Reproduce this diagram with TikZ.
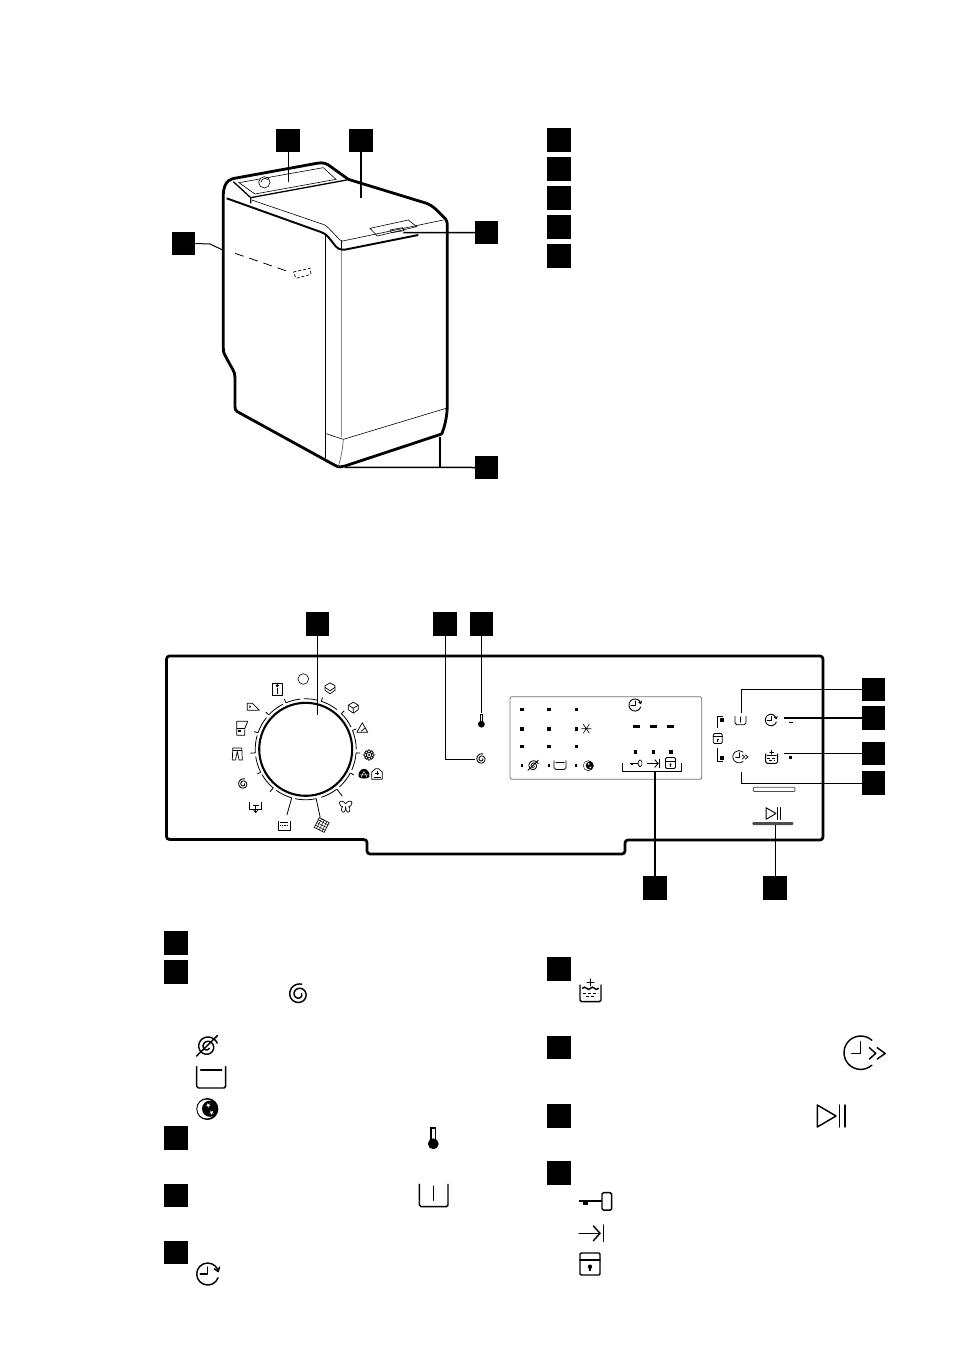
\documentclass[tikz,border=0pt]{standalone}
\usetikzlibrary{calc}
\tikzset{
  blk/.style={fill=black,draw=none,minimum size=23.5pt,inner sep=0pt,outer sep=0pt},
  lead/.style={line width=1.5pt,black},
  leadthin/.style={line width=1pt,black},
  heavy/.style={line width=2.8pt,line join=round,line cap=round},
  thinl/.style={line width=.6pt},
  led/.style={fill=black,draw=none,minimum size=3.6pt,inner sep=0pt},
  ledsmall/.style={fill=black,draw=none,minimum size=2.8pt,inner sep=0pt}
}
\newcommand{\IcOpen}[3]{\begin{scope}[shift={(#1,#2)},scale=#3,line width=0.3pt+1.15pt*#3,line cap=round,line join=round]}
\newcommand{\IcSpiral}[3]{\IcOpen{#1}{#2}{#3}
  \draw plot[domain=0:660,samples=60,smooth] ({(10.5-8*\x/660)*cos(-75-\x)},{(10.5-8*\x/660)*sin(-75-\x)});
\end{scope}}
\newcommand{\IcNoSpin}[3]{\IcOpen{#1}{#2}{#3}
  \draw plot[domain=0:660,samples=60,smooth] ({(10.5-8*\x/660)*cos(-20-\x)},{(10.5-8*\x/660)*sin(-20-\x)});
  \draw (-10.7,9.3) -- (10,-11);
\end{scope}}
\newcommand{\IcRinse}[3]{\IcOpen{#1}{#2}{#3}
  \draw[rounded corners=1.7] (-14.5,-10.7) -- (-14.5,10.7) -- (14.5,10.7) -- (14.5,-10.7);
  \draw (-10.5,-7.3) -- (10.5,-7.3);
\end{scope}}
\newcommand{\IcTub}[3]{\IcOpen{#1}{#2}{#3}
  \draw[rounded corners=1.7] (-14.3,-11.2) -- (-14.3,11.2) -- (14.3,11.2) -- (14.3,-11.2);
  \draw (0,-9.5) -- (0,4.7);
\end{scope}}
\newcommand{\IcMoon}[3]{\begin{scope}[shift={(#1,#2)},scale=#3]
  \fill[black] (0,0) circle (11);
  \fill[white] (-.6,0) circle (9.4);
  \fill[black] (2.8,-.3) circle (8.1);
  \fill[white,shift={(1,-3.7)}] (90:2.4)--(234:2.4)--(18:2.4)--(162:2.4)--(306:2.4)--cycle;
  \fill[white,shift={(4.3,3.6)}] (90:2.4)--(234:2.4)--(18:2.4)--(162:2.4)--(306:2.4)--cycle;
\end{scope}}
\newcommand{\IcTherm}[3]{\begin{scope}[shift={(#1,#2)},scale=#3]
  \fill[black] (-2.9,-11) rectangle (2.9,3);
  \fill[white] (-1.4,-9.4) rectangle (1.4,.5);
  \fill[black] (0,5.5) circle (5.4);
\end{scope}}
\newcommand{\IcClock}[3]{\IcOpen{#1}{#2}{#3}
  \draw (20:11) arc[start angle=20,end angle=335,radius=11];
  \draw (0,-7) -- (0,0) -- (-7.5,0);
  \draw (6.6,-5.2) -- (10.5,-2.4) -- (11.8,-7);
\end{scope}}
\newcommand{\IcForward}[3]{\IcOpen{#1}{#2}{#3}
  \draw (48:16.7) arc[start angle=48,end angle=312,radius=16.7];
  \draw (0,-11) -- (0,0.7) -- (-9,0.7);
  \draw (8.7,-5) -- (15,0.7) -- (8.7,6.3);
  \draw (16.5,-5) -- (24.5,0.7) -- (16.5,6.3);
\end{scope}}
\newcommand{\IcAdd}[3]{\IcOpen{#1}{#2}{#3}
  \draw[rounded corners=1.5] (-10.5,-5) -- (-10.5,11.7) -- (10.5,11.7) -- (10.5,-5);
  \draw (-3.3,-7.7) -- (3.3,-7.7) (0,-11) -- (0,-4.4);
  \draw (-8,-1.7) .. controls (-6.5,-3.3) and (-5.5,-3.3) .. (-4,-1.7) .. controls (-2.5,-.2) and (-1.5,-.2) .. (0,-1.7) .. controls (1.5,-3.3) and (2.5,-3.3) .. (4,-1.7) .. controls (5.5,-.2) and (6.5,-.2) .. (8,-1.7);
  \draw[densely dashed,line cap=butt] (-7.5,3.3) -- (7.5,3.3);
  \draw[densely dashed,line cap=butt] (-5,6.7) -- (5,6.7);
\end{scope}}
\newcommand{\IcPlay}[3]{\IcOpen{#1}{#2}{#3}
  \draw (-13.7,-11) -- (5,0) -- (-13.7,11) -- cycle;
  \draw (8.7,-11) -- (8.7,11) (14,-11) -- (14,11);
\end{scope}}
\newcommand{\IcKey}[3]{\IcOpen{#1}{#2}{#3}
  \draw[rounded corners=1.5] (6.7,-8.7) rectangle (16.4,8.7);
  \fill[black] (-16.3,-1.6) rectangle (6.7,1);
  \fill[black] (-12,1) rectangle (-7,3.6);
\end{scope}}
\newcommand{\IcArrow}[3]{\IcOpen{#1}{#2}{#3}
  \draw (-12.7,0) -- (8.3,0);
  \draw (1.6,-7.5) -- (8.3,0) -- (1.6,7.5);
  \draw (11.7,-8.3) -- (11.7,8.3);
\end{scope}}
\newcommand{\IcDoor}[3]{\IcOpen{#1}{#2}{#3}
  \draw[rounded corners=1.2] (-10,-11) rectangle (10,11);
  \draw (-10,-4) -- (10,-4);
  \fill[black] (0,2.7) circle (2.2);
  \fill[black] (-.9,2.7) rectangle (.9,7);
\end{scope}}
\begin{document}
\begin{tikzpicture}[x=1pt,y=-1pt]
\useasboundingbox (0,0) rectangle (954,1351);
% ---------- machine ----------
\begin{scope}[shift={(160,120)},x=0.33333pt,y=-0.33333pt]
  \draw[heavy] (190,235) .. controls (188,200) and (200,180) .. (218,176) -- (470,130) .. controls (490,126) and (500,130) .. (515,142) -- (565,178) -- (800,250) .. controls (815,256) and (825,265) .. (835,275) -- (850,290) .. controls (860,298) and (862,305) .. (862,320) -- (862,860) .. controls (860,900) and (852,925) .. (845,942) -- (555,1038) .. controls (545,1042) and (535,1042) .. (525,1036) -- (232,875) .. controls (226,870) and (225,868) .. (225,860) -- (225,772) .. controls (225,762) and (222,755) .. (218,748) -- (196,708) .. controls (191,700) and (190,695) .. (190,685) -- cycle;
  \draw[line width=1.9pt,line join=round] (200,235) -- (485,337) .. controls (500,342) and (508,355) .. (520,370) .. controls (530,385) and (540,391) .. (555,389) -- (775,345);
  \draw[line width=1.3pt] (220,185) -- (272,233) -- (272,250);
  \draw[line width=1.3pt] (272,233) -- (560,180);
  \draw[thinl] (237,188) -- (285,222) -- (528,178) -- (490,143) -- cycle;
  \draw[thinl,fill=white] (313,187) circle (17);
  \draw[thinl] (303,187) arc[start angle=180,end angle=320,radius=12];
  \draw[thinl] (275,240) -- (495,315) .. controls (505,322) and (525,345) .. (540,360) -- (548,363) -- (850,300);
  \draw[thinl] (545,363) -- (545,390);
  \draw[line width=1.2pt,black!45] (545,392) -- (545,952);
  \draw[line width=.9pt] (495,345) -- (495,1015);
  \draw[thinl] (495,940) -- (550,958) -- (858,865);
  \draw[line width=.7pt,black!60] (550,958) .. controls (548,990) and (542,1015) .. (535,1040);
  \draw[thinl] (630,325) -- (745,300) -- (770,320) -- (652,348) -- cycle;
  \draw[thinl] (690,330) -- (728,323) -- (732,332) -- (695,338) -- cycle;
  \draw[line width=.8pt,dash pattern=on 9pt off 6pt] (225,400) -- (395,458);
  \draw[line width=.7pt,dash pattern=on 3pt off 2pt] (400,456) -- (450,445) -- (453,463) -- (408,475) -- cycle;
  \coordinate (mA) at (383,185);
  \coordinate (mB) at (603,235);
  \coordinate (mC) at (730,338);
  \coordinate (mD) at (188,390);
  \coordinate (mDk) at (150,372);
  \coordinate (mE) at (555,1042);
  \coordinate (mF) at (840,950);
\end{scope}
\node[blk] (sA) at (288,140.5) {};
\node[blk] (sB) at (361,140.5) {};
\node[blk] (sC) at (486.5,232.5) {};
\node[blk] (sD) at (183.5,243.5) {};
\node[blk] (sE) at (486.5,467.5) {};
\draw[leadthin] (sA.south) -- (sA.south |- mA);
\draw[lead] (sB.south) -- (sB.south |- mB);
\draw[lead] (sC.west) -- (mC);
\draw[leadthin] (sD.east) -- (mDk) -- (mD);
\draw[lead] (sE.west) -- (mE);
\draw[lead] (mF) -- (mF |- sE.west);
% legend top right
\node[blk] (r1) at (559,140) {};
\node[blk] (r2) at (559,169) {};
\node[blk] (r3) at (559,198) {};
\node[blk] (r4) at (559,227) {};
\node[blk] (r5) at (559,256) {};
% ---------- panel ----------
\draw[line width=2.7pt,rounded corners=3pt] (166.5,656) -- (823,656) -- (823,840) -- (625,840) -- (625,854) -- (367,854) -- (367,839.5) -- (166.5,839.5) -- cycle;
\coordinate (dial) at (305.7,749.3);
\draw[line width=2.1pt] (dial) circle (46.5);
\foreach \a/\b/\l in {113/96/4,72/52/4,45/26/4,22/0/4,-4/-24/4,-28/-48/4,-52/-72/9,-78/-102/19,-106/-126/18,-130/-150/5,-153/-172/4,-176/-196/5,161/141/4,137/117/4}{
  \draw[line width=.8pt] ($(dial)+({50.5*cos(\a)},{-50.5*sin(\a)})$) arc[start angle=-\a,end angle=-\b,radius=50.5];
  \draw[line width=.8pt] ($(dial)+({50.5*cos(\a)},{-50.5*sin(\a)})$) -- ($(dial)+({(50.5+\l)*cos(\a)},{-(50.5+\l)*sin(\a)})$);
}
\draw[line width=.8pt] ($(dial)+({50.5*cos(92)},{-50.5*sin(92)})$) arc[start angle=-92,end angle=-76,radius=50.5];
% dial icons
\draw[thinl] (303.3,679) circle (5.3);
\begin{scope}[shift={(277.3,689)},line width=.7pt,line join=round]
  \draw (-5,-6) -- (5,-6) -- (5,6.5) -- (-5,6.5) -- cycle;
  \fill (0,-3.3) circle (1.7);
  \draw (0,-1) -- (0,5);
\end{scope}
\begin{scope}[shift={(330,688.3)},line width=.7pt,line join=round]
  \draw (0,-5.5) -- (5,-2.5) -- (5,2) -- (0,5.5) -- (-5,2) -- (-5,-2.5) -- cycle;
  \draw (-5,-1) -- (0,2.5) -- (5,-1);
\end{scope}
\begin{scope}[shift={(353.3,707.7)},line width=.7pt,line join=round]
  \draw (0,-5.5) -- (5,-2.5) -- (5,2) -- (0,5.5) -- (-5,2) -- (-5,-2.5) -- cycle;
  \draw (-5,-2.5) -- (0,.5) -- (5,-2.5) (0,.5) -- (0,5.5);
\end{scope}
\begin{scope}[shift={(362.3,728.3)},line width=.7pt,line join=round]
  \draw (0,-5.5) -- (5.5,4) -- (-5.5,4) -- cycle;
  \draw (-1,3) -- (3,-.5);
\end{scope}
\begin{scope}[shift={(369,755)},line width=.7pt]
  \foreach \t in {0,45,...,315}{\draw (\t:3.7) circle (1.7);}
  \fill (0,0) circle (1.2);
\end{scope}
\begin{scope}[shift={(364,774.3)}]
  \fill[black] (0,-5.5) .. controls (3,-5.5) and (6,-2) .. (5.5,2) .. controls (5.5,5) and (-5.5,5) .. (-5.5,2) .. controls (-6,-2) and (-3,-5.5) .. (0,-5.5);
  \draw[white,line width=.4pt] (-3,3) -- (0,-3) -- (3,3) (-4,.5) -- (4,.5);
\end{scope}
\begin{scope}[shift={(377,774)},line width=.7pt,line join=round]
  \draw (-5.3,-2) -- (-5.3,5.3) -- (5.3,5.3) -- (5.3,-2) -- (1.5,-5.3) -- (-1.5,-5.3) -- cycle;
  \draw (0,-3) -- (0,1) (-2,-1) -- (2,-1);
  \draw (-3.5,3) -- (3.5,3);
\end{scope}
\begin{scope}[shift={(345.7,806.7)},line width=.7pt,line join=round]
  \draw (0,-3) .. controls (-2,-6) and (-6,-6.5) .. (-6.3,-4) .. controls (-6.5,-1) and (-4,0) .. (-3,0) .. controls (-5,1) and (-4.5,6) .. (-2,5.5) .. controls (-.5,5) and (0,3) .. (0,0);
  \draw (0,-3) .. controls (2,-6) and (6,-6.5) .. (6.3,-4) .. controls (6.5,-1) and (4,0) .. (3,0) .. controls (5,1) and (4.5,6) .. (2,5.5) .. controls (.5,5) and (0,3) .. (0,0);
\end{scope}
\begin{scope}[shift={(321.7,825)},rotate=-27,line width=.45pt]
  \draw[line width=.7pt] (-5.5,-5.5) rectangle (5.5,5.5);
  \foreach \t in {-3,0,3}{\draw (\t,-5.5) -- (\t,5.5) (-5.5,\t) -- (5.5,\t);}
\end{scope}
\begin{scope}[shift={(284.3,825.7)},line width=.7pt,line join=round]
  \draw (-6,-4.5) -- (-6,4.5) -- (6,4.5) -- (6,-4.5);
  \draw[line width=.5pt] (-4,-3) -- (4,-3);
  \draw[line width=.7pt,densely dotted] (-4,0) -- (4,0);
\end{scope}
\begin{scope}[shift={(255.7,806.7)},line width=.7pt,line join=round]
  \draw (-6,-5) -- (-6,2.5) -- (6,2.5) -- (6,-5);
  \draw (0,-1) -- (0,6);
  \draw (-3,-1) -- (3,-1);
  \draw (-2,3.5) -- (0,6) -- (2,3.5);
\end{scope}
\IcSpiral{243.3}{784}{.5}
\begin{scope}[shift={(237.3,754)},line width=.7pt,line join=round]
  \draw (-4.5,-6) -- (4.5,-6) -- (5,6) -- (1.8,6) -- (0,-2.5) -- (-1.8,6) -- (-5,6) -- cycle;
  \draw (-4.5,-4) -- (4.5,-4);
\end{scope}
\begin{scope}[shift={(241.7,728.3)},line width=.7pt,line join=round]
  \draw (-5,-7) -- (6,-7) -- (3.2,0) -- (3,7) -- (-5,7) -- cycle;
  \draw (-5,0) -- (3.2,0);
  \fill (-3.5,1.5) rectangle (-.5,4);
\end{scope}
\begin{scope}[shift={(253.3,706.7)},line width=.7pt,line join=round]
  \draw (-6,-3.5) -- (-1,-3.5) -- (6,3.5) -- (-6,3.5) -- cycle;
  \draw (-4,-1) -- (-2.5,0) -- (-4,1);
\end{scope}
% display
\draw[line width=.8pt,black!55,rounded corners=2pt] (510,696.7) rectangle (701.7,779.3);
\foreach \n/\x/\y in {la/522/709.3,lb/549/709.3,lc/576.3/709.3,ld/522/728.7,le/549/728.7,lf/576.3/728.7,lg/522/746.3,lh/549/746.3,li/576.3/746.3,lp/635.3/751.7,lq/653.3/751.7,lr/670.7/751.7}{\node[led] (\n) at (\x,\y) {};}
\foreach \n/\x/\y in {lj/522/765.7,lk/549/765.7,ll/576/765.7}{\node[ledsmall] (\n) at (\x,\y) {};}
\begin{scope}[shift={(586.3,728.7)},line width=.6pt]
  \draw (-3,-4.5) -- (3,4.5) (3,-4.5) -- (-3,4.5) (-5,0) -- (5,0);
\end{scope}
\foreach \x in {636.7,653.5,670.7}{\fill (\x-3.7,725) rectangle (\x+3.7,727.7);}
\IcNoSpin{533.3}{765.7}{.5}
\IcRinse{560}{765}{.41}
\IcMoon{588.3}{765.7}{.48}
\IcClock{635}{705}{.55}
\IcKey{635.8}{763.3}{.37}
\IcArrow{654}{763.5}{.5}
\IcDoor{670.5}{763}{.5}
\IcDoor{717.8}{738.5}{.45}
\draw[line width=1pt] (717.7,728) -- (717.7,716.7) -- (723,716.7);
\draw[line width=1pt] (717.7,748.3) -- (717.7,761) -- (723,761);
\node[led] (lt) at (721.7,720) {};
\node[led] (lu) at (721.7,757.7) {};
\IcTub{740.5}{720.5}{.38}
\IcClock{771}{720}{.52}
\IcForward{739}{756.7}{.37}
\IcAdd{771.7}{756.7}{.57}
\fill (788.7,721.8) rectangle (792.7,722.8);
\node[ledsmall] (lv) at (790.7,757.3) {};
\draw[line width=.8pt,black!70,rounded corners=1pt] (753.3,787.2) rectangle (795,791.5);
\IcPlay{773.3}{813.5}{.53}
\fill[black!70,rounded corners=1pt] (752.3,822) rectangle (793.3,825);
% bracket
\draw[line width=1pt] (622.3,763.3) -- (622.3,771.7) -- (681.7,771.7) -- (681.7,763.3);
% panel labels
\node[blk] (p1) at (317.5,624) {};
\node[blk] (p2) at (445,624) {};
\node[blk] (p3) at (481.5,624) {};
\node[blk] (p4) at (873.5,689.5) {};
\node[blk] (p5) at (873.5,718) {};
\node[blk] (p6) at (873.5,753.5) {};
\node[blk] (p7) at (873.5,783) {};
\node[blk] (p8) at (655,888) {};
\node[blk] (p9) at (775,888) {};
\coordinate (cA) at (317.3,715);
\coordinate (cB) at (474.7,759);
\coordinate (cC) at (481.5,713);
\coordinate (cD) at (741,713);
\coordinate (cE) at (784,718);
\coordinate (cF) at (784,753.5);
\coordinate (cG) at (741,771.7);
\coordinate (cH) at (655,771.7);
\coordinate (cI) at (775,825);
\draw[leadthin] (p1.south) -- (p1.south |- cA);
\draw[leadthin] (p2.south) -- (p2.south |- cB) -- (cB);
\draw[leadthin] (p3.south) -- (p3.south |- cC);
\draw[leadthin] (p4.west) -- (cD |- p4.west) -- (cD);
\draw[lead] (p5.west) -- (cE);
\draw[leadthin] (p6.west) -- (cF);
\draw[leadthin] (p7.west) -- (cG |- p7.west) -- (cG);
\draw[lead] (p8.north) -- (cH);
\draw[leadthin] (p9.north) -- (cI);
% lower legend left
\node[blk] (a1) at (176,943) {};
\node[blk] (a2) at (176,972) {};
\node[blk] (a3) at (176,1138) {};
\node[blk] (a4) at (176,1195.5) {};
\node[blk] (a5) at (176,1252.5) {};
\IcSpiral{299}{994.3}{1}
\IcNoSpin{207.3}{1046.7}{1}
\IcRinse{211.2}{1077.3}{1}
\IcMoon{207.3}{1109}{1}
\IcTherm{433.3}{1138.3}{1}
\IcTub{433.7}{1195.5}{1}
\IcClock{207.7}{1274}{1}
% lower legend right
\node[blk] (b1) at (559,969) {};
\node[blk] (b2) at (559,1047.5) {};
\node[blk] (b3) at (559,1116) {};
\node[blk] (b4) at (559,1173) {};
\IcAdd{590.5}{990}{1}
\IcForward{860.7}{1052.7}{1}
\IcPlay{831}{1116}{1}
\IcKey{595.3}{1201.4}{1}
\IcArrow{591.7}{1233.3}{1}
\IcDoor{590}{1264}{1}
\IcTherm{481.4}{720.7}{.63}
\IcSpiral{481.5}{759}{.5}
\end{tikzpicture}
\end{document}
